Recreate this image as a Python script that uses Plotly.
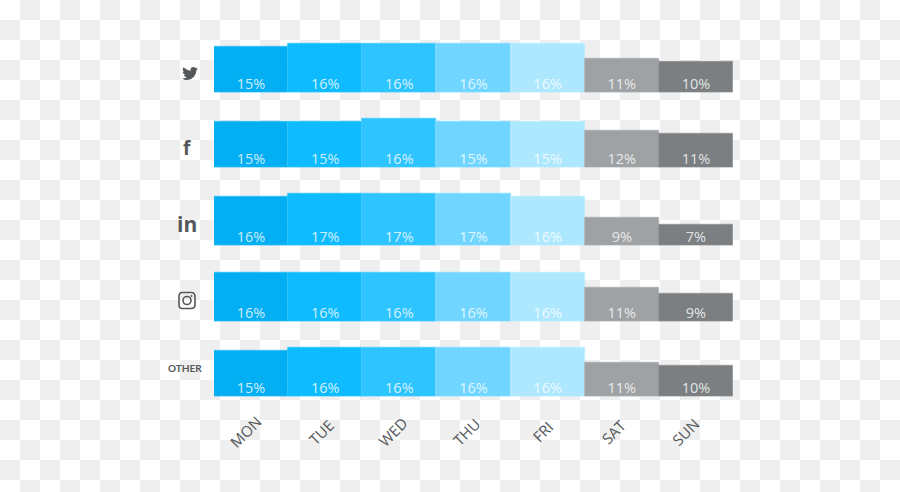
import plotly.graph_objects as go

W, H = 900, 492

DAYS = ['MON', 'TUE', 'WED', 'THU', 'FRI', 'SAT', 'SUN']
TWITTER = [15, 16, 16, 16, 16, 11, 10]
FACEBOOK = [15, 15, 16, 15, 15, 12, 11]
LINKEDIN = [16, 17, 17, 17, 16, 9, 7]
INSTAGRAM = [16, 16, 16, 16, 16, 11, 9]
OTHER = [15, 16, 16, 16, 16, 11, 10]
ROWS = [TWITTER, FACEBOOK, LINKEDIN, INSTAGRAM, OTHER]

# pixel row of each bar baseline
BASELINES = [92.5, 167.5, 245.5, 321.5, 396.5]
PX_PER_PCT = 3.05
LABEL_Y = 2.4

BAR_COLORS = ['#03aef2', '#0fbbff', '#2ec4ff', '#70d6ff', '#aee8ff', '#9ea2a4', '#7b7f82']
EDGE_COLORS = ['#2fbef6', '#2cc5ff', '#4accff', '#84dcff', '#bcecff', '#adb0b2', '#909496']
TEXT_COLOR = '#54585b'

DAY_LABEL_X = [245, 321, 392.5, 466, 542, 613, 685]
DAY_LABEL_Y = 431.5

# twitter bird outline, in 24 unit icon space
BIRD = [
    (24, 4.6), (22.6, 5.1), (21.1, 5.35), (22.5, 4.2), (23.3, 2.6), (21.8, 3.3), (20.2, 3.8),
    (18.7, 2.6), (16.6, 2.1), (14.2, 3.1), (13, 5), (12.7, 6.7), (12.8, 7.7), (9.5, 7.1),
    (6.5, 5.8), (3.8, 3.8), (1.65, 3.15), (1, 5.6), (1.6, 8), (3.2, 9.75), (0.93, 9.13),
    (1.9, 12), (4.9, 14), (2.7, 14.1), (4, 16.2), (7.3, 17.5), (4, 19.2), (0, 19.55),
    (3.6, 21.2), (7.55, 21.75), (13, 20.5), (17.5, 17.2), (20.6, 12.5), (21.55, 7.8),
    (21.53, 7.15), (23, 6),
]

fig = go.Figure()

# checkerboard backdrop on a full page axis measured in pixels
cols = W // 20 + 1
lines = H // 20 + 1
fig.add_trace(go.Heatmap(
    z=[[(c + r) % 2 for c in range(cols)] for r in range(lines)],
    x0=10, dx=20, y0=10, dy=20,
    colorscale=[[0, '#ffffff'], [1, '#efefef']],
    showscale=False, hoverinfo='skip', zsmooth=False,
))

layout_axes = {
    'xaxis': dict(domain=[0, 1], range=[0, W], visible=False, fixedrange=True),
    'yaxis': dict(domain=[0, 1], range=[H, 0], visible=False, fixedrange=True),
}

for i, (values, base) in enumerate(zip(ROWS, BASELINES)):
    n = i + 2
    fig.add_trace(go.Bar(
        x=DAYS,
        y=values,
        width=1,
        xaxis=f'x{n}',
        yaxis=f'y{n}',
        marker=dict(color=BAR_COLORS, line=dict(color=EDGE_COLORS, width=0.7)),
        hoverinfo='skip',
    ))
    fig.add_trace(go.Scatter(
        x=DAYS,
        y=[LABEL_Y] * len(DAYS),
        xaxis=f'x{n}',
        yaxis=f'y{n}',
        mode='text',
        text=[f'{v}%' for v in values],
        textposition='middle center',
        textfont=dict(family='Open Sans', size=14.5, color='rgba(255,255,255,0.8)'),
        hoverinfo='skip',
    ))
    top = base - 18 * PX_PER_PCT
    layout_axes[f'xaxis{n}'] = dict(domain=[214 / W, 733 / W], anchor=f'y{n}', visible=False,
                                    range=[-0.5, 6.5], fixedrange=True)
    layout_axes[f'yaxis{n}'] = dict(domain=[1 - base / H, 1 - top / H], anchor=f'x{n}', visible=False,
                                    range=[0, 18], fixedrange=True)

annotations = []
for day, x in zip(DAYS, DAY_LABEL_X):
    annotations.append(dict(
        text=day, x=x, y=DAY_LABEL_Y, xref='x', yref='y', showarrow=False, textangle=-45,
        font=dict(family='Open Sans', size=15, color=TEXT_COLOR),
    ))
annotations += [
    dict(text='<b>f</b>', x=187, y=148, xref='x', yref='y', showarrow=False,
         font=dict(family='Open Sans', size=19, color=TEXT_COLOR)),
    dict(text='<b>in</b>', x=187, y=224, xref='x', yref='y', showarrow=False,
         font=dict(family='Open Sans', size=21, color=TEXT_COLOR)),
    dict(text='<b>OTHER</b>', x=184.5, y=368, xref='x', yref='y', showarrow=False,
         font=dict(family='Lato', size=10, color=TEXT_COLOR)),
]

bird_path = 'M ' + ' L '.join(f'{182 + px * 0.667:.2f},{65.5 + py * 0.667:.2f}' for px, py in BIRD) + ' Z'
insta_frame = ('M 182,292.5 L 191,292.5 Q 195,292.5 195,296.5 L 195,304.5 Q 195,308.5 191,308.5 '
               'L 182,308.5 Q 179,308.5 179,304.5 L 179,296.5 Q 179,292.5 182,292.5 Z')
shapes = [
    dict(type='path', path=bird_path, xref='x', yref='y', fillcolor=TEXT_COLOR, line_width=0),
    dict(type='path', path=insta_frame, xref='x', yref='y', line=dict(color=TEXT_COLOR, width=1.6)),
    dict(type='circle', x0=183, x1=191, y0=296.5, y1=304.5, xref='x', yref='y',
         line=dict(color=TEXT_COLOR, width=1.6)),
    dict(type='circle', x0=190.5, x1=192.5, y0=295, y1=297, xref='x', yref='y',
         fillcolor=TEXT_COLOR, line_width=0),
]

fig.update_layout(
    width=W,
    height=H,
    margin=dict(l=0, r=0, t=0, b=0),
    showlegend=False,
    paper_bgcolor='white',
    plot_bgcolor='rgba(0,0,0,0)',
    bargap=0,
    annotations=annotations,
    shapes=shapes,
    **layout_axes,
)

# browser default body margin would push the chart 8px in
fig.write_html("out.html", config={'displayModeBar': False},
               post_script="document.body.style.margin='0';document.documentElement.style.overflow='hidden';")
